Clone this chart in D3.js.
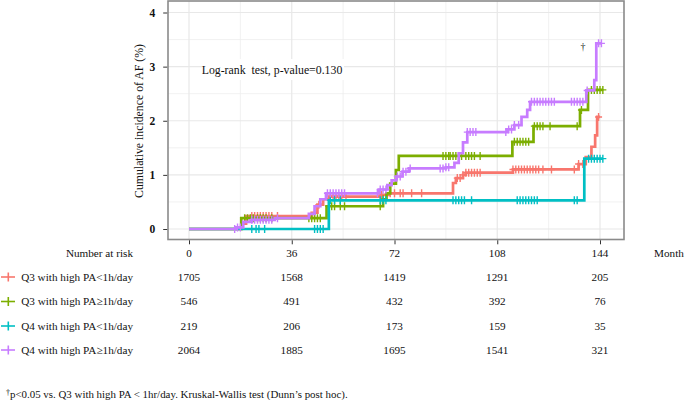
<!DOCTYPE html>
<html>
<head>
<meta charset="utf-8">
<script src="https://cdn.jsdelivr.net/npm/d3@7"></script>
<style>
  html, body { margin: 0; padding: 0; background: #fff; }
  svg { display: block; }
  text { font-family: "Liberation Serif", "Times New Roman", serif; fill: #111; }
</style>
</head>
<body>
<svg id="chart" width="685" height="400"></svg>
<script>
// ---------------- DATA ----------------
const groups = ["Q3 with high PA<1h/day", "Q3 with high PA\u22651h/day", "Q4 with high PA<1h/day", "Q4 with high PA\u22651h/day"];
const colors = ["#F8766D", "#7CAE00", "#00BFC4", "#C77CFF"];

// step functions (time in months, cumulative incidence %)
const redTimes   = [0, 18.5, 20, 43, 45, 47, 49, 67, 70, 92.5, 93.5, 96, 97, 113.5, 136.5, 139, 141, 142.3, 143, 144];
const redValues  = [0, 0.1, 0.24, 0.3, 0.45, 0.55, 0.6, 0.63, 0.66, 0.85, 0.94, 1.0, 1.04, 1.1, 1.2, 1.33, 1.52, 1.73, 2.07, 2.07];

const greenTimes  = [0, 18.3, 48.2, 68, 69.2, 70.5, 72.5, 73.5, 113.3, 120.7, 137, 139.8, 145];
const greenValues = [0, 0.2, 0.42, 0.55, 0.66, 0.84, 1.09, 1.35, 1.61, 1.9, 2.2, 2.57, 2.57];

const cyanTimes  = [0, 49, 138.5, 145];
const cyanValues = [0, 0.53, 1.3, 1.3];

const purpleTimes  = [0, 16.5, 19, 22, 30, 42, 44, 46, 48, 66.5, 69.5, 71, 72.6, 74.8, 77, 90, 93, 94.5, 96, 97.5, 111.5, 114, 116.5, 118.5, 119.5, 139.2, 142, 142.7, 144.5];
const purpleValues = [0, 0.03, 0.13, 0.17, 0.2, 0.28, 0.42, 0.55, 0.66, 0.73, 0.81, 0.9, 0.97, 1.06, 1.12, 1.14, 1.22, 1.4, 1.6, 1.79, 1.84, 1.92, 2.07, 2.2, 2.35, 2.56, 2.75, 3.43, 3.43];

// censoring times
const redCensor = [22,23,24,25,26,27,28,29,31, 44,45.5, 49.5,50.5,51.5,52.5,53.5,55, 67.5,70.5,72,74,75,78,81.5, 94,95,96,97,98,99,100,101,102, 113.5,114.5,115.5,116.5,117.5,118.5,119.5,120.5,121.5,122.5,124,127, 135,136.5,138, 143.5];
const greenCensor = [19.5,20.5,21.5,22.5,24,25,26,27,29, 42,43,44,45,46, 49,50,51,53,54.5, 67,68, 89,90,91,91.5,92.5,93.5,94.5,95.5,97,98,99,100,102, 114,115,116,117,118,119, 121,122,123,124,126.5, 136,137.5, 141,142,143,144,145];
const cyanCensor = [22,23.5,24.5,26.5, 44,45,46,47, 49.5,51,53, 67,68,69, 92.5,93.5,94.5,95.5,96.5,99, 115,116,117,118,119,120,121,122, 135,136, 140,141,142,143,144,145];
const purpleCensor = [16,17,18, 22,23,24,25,26,27,28,29,31, 48.5,49.5,50.5,51.5,52.5,53.5,54.5, 66,67,68,69, 73,74,75,76,77.5, 88,89,90,91, 97.5,98.5,99.5,100.5, 111,112,113,114,115.5, 120,121,122,123,124,125,126,127,128, 134,135,136,137,138,139.5, 143.5,144.5];

// risk table
const riskTimes = [0, 36, 72, 108, 144];
const riskRed    = [1705, 1568, 1419, 1291, 205];
const riskGreen  = [546, 491, 432, 392, 76];
const riskCyan   = [219, 206, 173, 159, 35];
const riskPurple = [2064, 1885, 1695, 1541, 321];

const yTicks = [0, 1, 2, 3, 4];
const yMinor = [0.5, 1.5, 2.5, 3.5];
const xMinor = [18, 54, 90, 126];

// ---------------- BUILD ----------------
const series = [
  {times: redTimes, values: redValues, censor: redCensor, risk: riskRed},
  {times: greenTimes, values: greenValues, censor: greenCensor, risk: riskGreen},
  {times: cyanTimes, values: cyanValues, censor: cyanCensor, risk: riskCyan},
  {times: purpleTimes, values: purpleValues, censor: purpleCensor, risk: riskPurple}
].map((s, i) => ({...s, name: groups[i], color: colors[i],
  pts: s.times.map((t, j) => [t, s.values[j]])}));

const svg = d3.select("#chart");
const panel = {left: 168, right: 624, top: 1, bottom: 239.5};
const FS = 11.2;

const x = d3.scaleLinear().domain([0, 144]).range([189, 600]);
const y = d3.scaleLinear().domain([0, 4]).range([229, 12.5]);

// panel background
svg.append("rect").attr("x", panel.left).attr("y", panel.top)
  .attr("width", panel.right - panel.left).attr("height", panel.bottom - panel.top)
  .attr("fill", "#fff");

// grid
const grid = svg.append("g");
grid.selectAll(".ymin").data(yMinor).join("line")
  .attr("x1", panel.left).attr("x2", panel.right)
  .attr("y1", d => y(d)).attr("y2", d => y(d))
  .attr("stroke", "#ededed").attr("stroke-width", 0.8);
grid.selectAll(".xmin").data(xMinor).join("line")
  .attr("y1", panel.top).attr("y2", panel.bottom)
  .attr("x1", d => x(d)).attr("x2", d => x(d))
  .attr("stroke", "#ededed").attr("stroke-width", 0.8);
grid.selectAll(".ymaj").data(yTicks).join("line")
  .attr("x1", panel.left).attr("x2", panel.right)
  .attr("y1", d => y(d)).attr("y2", d => y(d))
  .attr("stroke", "#e8e8e8").attr("stroke-width", 1.2);
grid.selectAll(".xmaj").data(riskTimes).join("line")
  .attr("y1", panel.top).attr("y2", panel.bottom)
  .attr("x1", d => x(d)).attr("x2", d => x(d))
  .attr("stroke", "#e8e8e8").attr("stroke-width", 1.2);

// curves
const line = d3.line().x(d => x(d[0])).y(d => y(d[1])).curve(d3.curveStepAfter);
function stepVal(s, t) {
  let v = 0;
  for (let j = 0; j < s.times.length; j++) { if (s.times[j] <= t) v = s.values[j]; }
  return v;
}
series.forEach(s => {
  const g = svg.append("g");
  g.append("path").attr("d", line(s.pts)).attr("fill", "none")
    .attr("stroke", s.color).attr("stroke-width", 2.7).attr("stroke-linejoin", "miter");
  g.selectAll("path.c").data(s.censor).join("path").attr("class", "c")
    .attr("d", d => {
      const cx = x(d), cy = y(stepVal(s, d));
      return `M${cx-3.5},${cy}H${cx+3.5}M${cx},${cy-4}V${cy+4}`;
    })
    .attr("stroke", s.color).attr("stroke-width", 1.4).attr("fill", "none");
});

// panel border
svg.append("rect").attr("x", panel.left).attr("y", panel.top)
  .attr("width", panel.right - panel.left).attr("height", panel.bottom - panel.top)
  .attr("fill", "none").attr("stroke", "#8a8a8a").attr("stroke-width", 1.6);

// y axis
const yAxis = d3.axisLeft(y).tickValues(yTicks).tickSize(4).tickPadding(8).tickFormat(d3.format("d"));
const ya = svg.append("g").attr("transform", `translate(${panel.left - 0.8},0)`).call(yAxis);
ya.select(".domain").remove();
ya.selectAll(".tick line").attr("stroke", "#333").attr("stroke-width", 1);
ya.selectAll(".tick text").attr("font-family", "Liberation Serif").attr("font-size", 11.5)
  .attr("font-weight", "bold").attr("fill", "#222");

// x axis ticks (no labels)
const xAxis = d3.axisBottom(x).tickValues(riskTimes).tickSize(4).tickFormat("");
const xa = svg.append("g").attr("transform", `translate(0,${panel.bottom + 0.8})`).call(xAxis);
xa.select(".domain").remove();
xa.selectAll(".tick line").attr("stroke", "#333").attr("stroke-width", 1);

// y title
svg.append("text").attr("transform", `translate(143,121) rotate(-90)`)
  .attr("text-anchor", "middle").attr("font-size", 11.8)
  .text("Cumulative incidence of AF (%)");

// log-rank label
const lr = svg.append("g");
lr.append("rect").attr("x", 202).attr("y", 59).attr("width", 142).attr("height", 21).attr("fill", "#fff");
lr.append("text").attr("x", 272).attr("y", 74).attr("text-anchor", "middle").attr("font-size", 11.8)
  .attr("xml:space", "preserve").style("white-space", "pre")
  .text("Log-rank  test, p-value=0.130");

// dagger
svg.append("text").attr("x", x(138)).attr("y", 50).attr("text-anchor", "middle")
  .attr("font-size", 10).style("fill", "#222").text("\u2020");

// risk table
const rowY = [253, 277, 301.5, 326, 350];
svg.append("text").attr("x", 133).attr("y", rowY[0]).attr("dy", "0.35em")
  .attr("text-anchor", "end").attr("font-size", FS).text("Number at risk");
svg.selectAll(".rt").data(riskTimes).join("text").attr("class", "rt")
  .attr("x", d => x(d)).attr("y", rowY[0]).attr("dy", "0.35em")
  .attr("text-anchor", "middle").attr("font-size", FS).text(d => d);
svg.append("text").attr("x", 654).attr("y", rowY[0]).attr("dy", "0.35em")
  .attr("font-size", FS).text("Month");

series.forEach((s, i) => {
  const ry = rowY[i + 1];
  const g = svg.append("g");
  g.append("line").attr("x1", 1).attr("x2", 15).attr("y1", ry).attr("y2", ry)
    .attr("stroke", s.color).attr("stroke-width", 1.6);
  g.append("line").attr("x1", 8.3).attr("x2", 8.3).attr("y1", ry - 4.5).attr("y2", ry + 4.5)
    .attr("stroke", s.color).attr("stroke-width", 1.6);
  g.append("text").attr("x", 133).attr("y", ry).attr("dy", "0.35em")
    .attr("text-anchor", "end").attr("font-size", FS).text(s.name);
  g.selectAll(".n").data(s.risk).join("text").attr("class", "n")
    .attr("x", (d, j) => x(riskTimes[j])).attr("y", ry).attr("dy", "0.35em")
    .attr("text-anchor", "middle").attr("font-size", FS).text(d => d);
});

// footnote
const fn = svg.append("text").attr("x", 6).attr("y", 398).attr("font-size", 10.9);
fn.append("tspan").attr("font-size", 8).attr("dy", "-3").text("\u2020");
fn.append("tspan").attr("dy", "3").text("p<0.05 vs. Q3 with high PA < 1hr/day. Kruskal-Wallis test (Dunn\u2019s post hoc).");
</script>
</body>
</html>
